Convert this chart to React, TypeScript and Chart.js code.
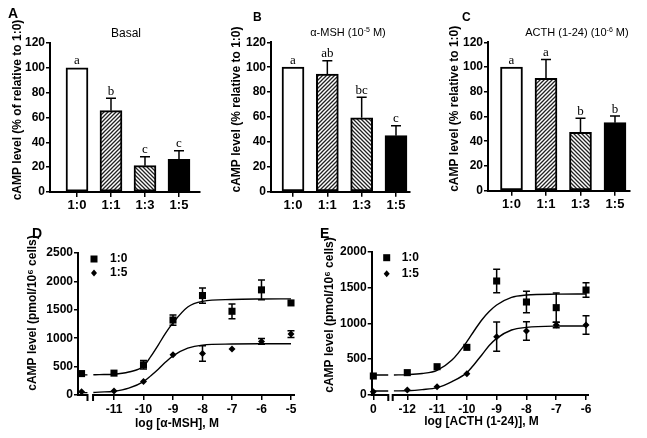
import React, { useEffect, useRef } from 'react';
import { Chart, registerables } from 'chart.js';
Chart.register(...registerables);

const FONT = "'Liberation Sans', Arial, Helvetica, sans-serif";
const SERIF = "'Liberation Serif', 'Times New Roman', serif";

// ---- Bar panels (A, B, C) ----
const ratioLabels = ['1:0', '1:1', '1:3', '1:5'];
const ratioPositions = [0, 1, 2, 3];
const barYTicks = [0, 20, 40, 60, 80, 100, 120];

const basalMeans = [100, 65.5, 21.2, 26.3];
const basalErrors = [0, 10, 7.2, 7];
const basalLetters = ['a', 'b', 'c', 'c'];

const mshMeans = [100, 94.5, 59.4, 45];
const mshErrors = [0, 10.7, 16.4, 8];
const mshLetters = ['a', 'ab', 'bc', 'c'];

const acthMeans = [100, 90.9, 47.2, 55];
const acthErrors = [0, 15.1, 11.3, 5.4];
const acthLetters = ['a', 'a', 'b', 'b'];

// ---- Dose-response panel D (alpha-MSH) ----
const mshDose = [-12.1, -11, -10, -9, -8, -7, -6, -5];
const mshResp10 = [377, 385, 531, 1320, 1751, 1474, 1851, 1621];
const mshSem10 = [0, 0, 75, 90, 135, 130, 175, 0];
const mshResp15 = [59, 71, 236, 708, 731, 808, 943, 1073];
const mshSem15 = [0, 0, 0, 0, 135, 0, 50, 60];
const mshTicks = [-11, -10, -9, -8, -7, -6, -5];
const mshTickLabels = ['-11', '-10', '-9', '-8', '-7', '-6', '-5'];
const mshYTicks = [0, 500, 1000, 1500, 2000, 2500];
const mshFitX = [-12.1, -11.9, -11.8, -11.7, -11.5, -11, -10.5, -10, -9.75, -9.5, -9.25, -9, -8.5, -8, -7, -6, -5];
const mshFit10 = [355, 355, null, 356, 359, 366, 405, 505, 680, 880, 1090, 1270, 1550, 1648, 1682, 1690, 1692];
const mshFit15 = [42, 42, null, 43, 50, 66, 120, 236, 340, 454, 580, 690, 825, 879, 897, 902, 903];

// ---- Dose-response panel E (ACTH 1-24) ----
const acthDose = [-13.14, -12, -11, -10, -9, -8, -7, -6];
const acthResp10 = [265, 312, 395, 665, 1591, 1298, 1219, 1465];
const acthSem10 = [0, 0, 0, 0, 163, 150, 205, 100];
const acthResp15 = [47, 70, 116, 298, 814, 893, 977, 977];
const acthSem15 = [0, 0, 0, 0, 205, 130, 40, 130];
const acthTicks = [-13.14, -12, -11, -10, -9, -8, -7, -6];
const acthTickLabels = ['0', '-12', '-11', '-10', '-9', '-8', '-7', '-6'];
const acthYTicks = [0, 500, 1000, 1500, 2000];
const acthFitX = [-13.14, -12.64, -12.55, -12.45, -12, -11.5, -11, -10.5, -10, -9.75, -9.5, -9.25, -9, -8.5, -8, -7, -6];
const acthFit10 = [279, 279, null, 280, 284, 300, 345, 488, 744, 900, 1047, 1165, 1256, 1363, 1395, 1408, 1410];
const acthFit15 = [56, 56, null, 57, 60, 75, 102, 186, 312, 430, 558, 690, 791, 907, 944, 962, 964];

function makeHatch(ctx: CanvasRenderingContext2D, dir: number) {
  const s = 4;
  const c = document.createElement('canvas');
  c.width = s; c.height = s;
  const g = c.getContext('2d')!;
  g.fillStyle = '#fff'; g.fillRect(0, 0, s, s);
  g.strokeStyle = '#222'; g.lineWidth = 1.3;
  g.beginPath();
  if (dir > 0) {
    g.moveTo(-1, s + 1); g.lineTo(s + 1, -1);
    g.moveTo(-1, 1); g.lineTo(1, -1);
    g.moveTo(s - 1, s + 1); g.lineTo(s + 1, s - 1);
  } else {
    g.moveTo(-1, -1); g.lineTo(s + 1, s + 1);
    g.moveTo(s - 1, -1); g.lineTo(s + 1, 1);
    g.moveTo(-1, s - 1); g.lineTo(1, s + 1);
  }
  g.stroke();
  return ctx.createPattern(c, 'repeat')!;
}

const yTitlePlugin = (text: string, cx: number, cy: number) => ({
  id: 'yTitle',
  afterDraw(chart: any) {
    const { ctx } = chart;
    ctx.save();
    ctx.translate(cx, cy);
    ctx.rotate(-Math.PI / 2);
    ctx.font = `bold 12px ${FONT}`;
    ctx.fillStyle = '#000';
    ctx.textAlign = 'center';
    ctx.textBaseline = 'middle';
    ctx.fillText(text, 0, 0);
    ctx.restore();
  },
});

const barErrorPlugin = (errors: number[], letters: string[]) => ({
  id: 'barErrors',
  afterDatasetsDraw(chart: any) {
    const { ctx } = chart;
    const meta = chart.getDatasetMeta(0);
    const ys = chart.scales.y;
    const ds = chart.data.datasets[0].data;
    ctx.save();
    ctx.strokeStyle = '#000';
    ctx.lineWidth = 1.5;
    meta.data.forEach((bar: any, i: number) => {
      const top = ys.getPixelForValue(ds[i].y + errors[i]);
      if (errors[i] > 0) {
        ctx.beginPath();
        ctx.moveTo(bar.x, bar.y);
        ctx.lineTo(bar.x, top);
        ctx.moveTo(bar.x - 5, top);
        ctx.lineTo(bar.x + 5, top);
        ctx.stroke();
      }
      ctx.fillStyle = '#000';
      ctx.font = `13px ${SERIF}`;
      ctx.textAlign = 'center';
      ctx.textBaseline = 'alphabetic';
      ctx.fillText(letters[i], bar.x, top - 3.5);
    });
    ctx.restore();
  },
});

const pointErrorPlugin = (sems: number[][]) => ({
  id: 'pointErrors',
  afterDatasetsDraw(chart: any) {
    const { ctx } = chart;
    const ys = chart.scales.y;
    ctx.save();
    ctx.strokeStyle = '#000';
    ctx.lineWidth = 1.5;
    sems.forEach((sem, di) => {
      const meta = chart.getDatasetMeta(di);
      const ds = chart.data.datasets[di].data;
      meta.data.forEach((pt: any, i: number) => {
        if (!sem[i]) return;
        const yt = ys.getPixelForValue(ds[i].y + sem[i]);
        const yb = ys.getPixelForValue(ds[i].y - sem[i]);
        ctx.beginPath();
        ctx.moveTo(pt.x, yt); ctx.lineTo(pt.x, yb);
        ctx.moveTo(pt.x - 3.5, yt); ctx.lineTo(pt.x + 3.5, yt);
        ctx.moveTo(pt.x - 3.5, yb); ctx.lineTo(pt.x + 3.5, yb);
        ctx.stroke();
      });
    });
    ctx.restore();
  },
});

const brokenAxisPlugin = (breakStart: number, breakEnd: number) => ({
  id: 'brokenAxis',
  afterDraw(chart: any) {
    const { ctx, chartArea } = chart;
    const xs = chart.scales.x;
    const y0 = chartArea.bottom;
    const b = xs.getPixelForValue(breakStart);
    const c = xs.getPixelForValue(breakEnd);
    ctx.save();
    ctx.strokeStyle = '#000';
    ctx.lineWidth = 2;
    ctx.beginPath();
    ctx.moveTo(chartArea.left - 1, y0);
    ctx.lineTo(b, y0);
    ctx.lineTo(b, y0 + 6);
    ctx.moveTo(c, y0 + 6);
    ctx.lineTo(c, y0);
    ctx.lineTo(chartArea.right, y0);
    ctx.stroke();
    ctx.restore();
  },
});

const legendPlugin = (dx: number, textDx: number, dy1: number, dy2: number) => ({
  id: 'doseLegend',
  afterDraw(chart: any) {
    const { ctx, chartArea } = chart;
    const x = chartArea.left + dx;
    const y1 = chartArea.top + dy1;
    const y2 = chartArea.top + dy2;
    ctx.save();
    ctx.fillStyle = '#000';
    ctx.fillRect(x - 3.5, y1 - 3.5, 7, 7);
    ctx.beginPath();
    ctx.moveTo(x, y2 - 3.5); ctx.lineTo(x + 3, y2); ctx.lineTo(x, y2 + 3.5); ctx.lineTo(x - 3, y2);
    ctx.closePath(); ctx.fill();
    ctx.font = `bold 12px ${FONT}`;
    ctx.textAlign = 'left';
    ctx.textBaseline = 'middle';
    ctx.fillText(chart.data.datasets[0].label, chartArea.left + textDx, y1);
    ctx.fillText(chart.data.datasets[1].label, chartArea.left + textDx, y2);
    ctx.restore();
  },
});

type Area = { left: number; right: number; top: number; bottom: number };

function axisCommon() {
  return {
    grid: { display: true, drawOnChartArea: false, drawTicks: true, tickLength: 4, color: '#000', lineWidth: 1.5, offset: false },
    border: { display: true, color: '#000', width: 2 },
  };
}

const plainTick = (v: number) => String(v);

function barConfig(canvas: HTMLCanvasElement, p: any) {
  const ctx = canvas.getContext('2d')!;
  const fills = ['#ffffff', makeHatch(ctx, 1), makeHatch(ctx, -1), '#000000'];
  const area: Area = p.area;
  return {
    type: 'bar',
    data: {
      datasets: [{
        data: ratioPositions.map((x, i) => ({ x, y: p.means[i] })),
        backgroundColor: fills,
        borderColor: '#000',
        borderWidth: 2,
        borderSkipped: false,
        barThickness: 22,
        clip: false,
      }],
    },
    options: {
      responsive: false,
      animation: false,
      events: [],
      layout: { padding: { left: 0, top: area.top, right: p.width - area.right, bottom: 0 } },
      plugins: { legend: { display: false }, tooltip: { enabled: false }, title: { display: false } },
      scales: {
        x: {
          type: 'linear', min: p.xMin, max: p.xMax, offset: false,
          afterBuildTicks: (s: any) => { s.ticks = ratioPositions.map((v) => ({ value: v })); },
          afterFit: (s: any) => { s.height = p.height - area.bottom; },
          ticks: {
            callback: (v: number) => ratioLabels[ratioPositions.indexOf(v)] ?? '',
            font: { family: FONT, size: 13, weight: 'bold' }, color: '#000', padding: 1, maxRotation: 0, autoSkip: false,
          },
          ...axisCommon(),
          grid: { ...axisCommon().grid, tickLength: 5 },
        },
        y: {
          min: 0, max: 120,
          afterBuildTicks: (s: any) => { s.ticks = barYTicks.map((v) => ({ value: v })); },
          afterFit: (s: any) => { s.width = area.left; },
          ticks: { callback: plainTick, font: { family: FONT, size: 12, weight: 'bold' }, color: '#000', padding: 1 },
          ...axisCommon(),
        },
      },
    },
    plugins: [barErrorPlugin(p.errors, p.letters), yTitlePlugin(p.yTitle, p.yTitleX, p.yTitleY)],
  };
}

function doseConfig(canvas: HTMLCanvasElement, p: any) {
  const area: Area = p.area;
  return {
    type: 'line',
    data: {
      datasets: [
        { label: '1:0', data: p.dose.map((x: number, i: number) => ({ x, y: p.resp10[i] })), showLine: false, pointStyle: 'rect', pointRadius: 5, pointBackgroundColor: '#000', pointBorderWidth: 0, clip: false },
        { label: '1:5', data: p.dose.map((x: number, i: number) => ({ x, y: p.resp15[i] })), showLine: false, pointStyle: 'rectRot', pointRadius: 3.5, pointBackgroundColor: '#000', pointBorderWidth: 0, clip: false },
        { label: 'fit 1:0', data: p.fitX.map((x: number, i: number) => ({ x, y: p.fit10[i] })), borderColor: '#000', borderWidth: 1.4, pointRadius: 0, cubicInterpolationMode: 'monotone', spanGaps: false, fill: false, clip: false },
        { label: 'fit 1:5', data: p.fitX.map((x: number, i: number) => ({ x, y: p.fit15[i] })), borderColor: '#000', borderWidth: 1.4, pointRadius: 0, cubicInterpolationMode: 'monotone', spanGaps: false, fill: false, clip: false },
      ],
    },
    options: {
      responsive: false,
      animation: false,
      events: [],
      layout: { padding: { left: 0, top: area.top, right: p.width - area.right, bottom: 0 } },
      plugins: { legend: { display: false }, tooltip: { enabled: false } },
      scales: {
        x: {
          type: 'linear', min: p.xMin, max: p.xMax, offset: false,
          afterBuildTicks: (s: any) => { s.ticks = p.ticks.map((v: number) => ({ value: v })); },
          afterFit: (s: any) => { s.height = p.height - area.bottom; },
          ticks: {
            callback: (v: number) => p.tickLabels[p.ticks.indexOf(v)] ?? '',
            font: { family: FONT, size: 12, weight: 'bold' }, color: '#000', padding: 2, maxRotation: 0, autoSkip: false,
          },
          grid: { ...axisCommon().grid, tickLength: 5 },
          border: { display: false },
        },
        y: {
          min: 0, max: p.yMax,
          afterBuildTicks: (s: any) => { s.ticks = p.yTicks.map((v: number) => ({ value: v })); },
          afterFit: (s: any) => { s.width = area.left; },
          ticks: { callback: plainTick, font: { family: FONT, size: 12, weight: 'bold' }, color: '#000', padding: 1 },
          ...axisCommon(),
        },
      },
    },
    plugins: [
      pointErrorPlugin([p.sem10, p.sem15]),
      brokenAxisPlugin(p.breakStart, p.breakEnd),
      legendPlugin(p.legDx, p.legTextDx, p.legDy1, p.legDy2),
      yTitlePlugin('cAMP level (pmol/10\u2076 cells)', p.yTitleX, p.yTitleY),
    ],
  };
}

function ChartCanvas({ left, top, width, height, build }: any) {
  const ref = useRef<HTMLCanvasElement>(null);
  useEffect(() => {
    const canvas = ref.current!;
    const chart = new Chart(canvas, build(canvas) as any);
    return () => chart.destroy();
  }, []);
  return (
    <canvas
      ref={ref}
      width={width}
      height={height}
      style={{ position: 'absolute', left, top, width, height }}
    />
  );
}

const textStyle = (left: number, top: number, size: number, bold: boolean): React.CSSProperties => ({
  position: 'absolute', left, top, fontFamily: FONT, fontSize: size, fontWeight: bold ? 'bold' : 'normal',
  lineHeight: 1, whiteSpace: 'nowrap', color: '#000',
});

const centered = (cx: number, top: number, size: number, bold: boolean): React.CSSProperties => ({
  ...textStyle(cx - 100, top, size, bold), width: 200, textAlign: 'center',
});

const sup: React.CSSProperties = { fontSize: 7, verticalAlign: 'top', position: 'relative', top: -1 };

export default function App() {
  const ySub = '% relative to 1:0';
  return (
    <div style={{ position: 'fixed', left: 0, top: 0, width: 647, height: 438, background: '#fff', overflow: 'hidden' }}>
      <ChartCanvas left={0} top={0} width={214} height={220} build={(c: HTMLCanvasElement) => barConfig(c, {
        width: 214, height: 220, area: { left: 50, right: 200, top: 43, bottom: 192 }, xMin: -0.794, xMax: 3.618,
        means: basalMeans, errors: basalErrors, letters: basalLetters,
        yTitle: 'cAMP level (% of relative to 1:0)', yTitleX: 18, yTitleY: 110,
      })} />
      <ChartCanvas left={214} top={0} width={210} height={220} build={(c: HTMLCanvasElement) => barConfig(c, {
        width: 210, height: 220, area: { left: 57, right: 196, top: 42.3, bottom: 191.7 }, xMin: -0.641, xMax: 3.408,
        means: mshMeans, errors: mshErrors, letters: mshLetters,
        yTitle: `cAMP level (${ySub})`, yTitleX: 22.7, yTitleY: 109.5,
      })} />
      <ChartCanvas left={424} top={0} width={223} height={220} build={(c: HTMLCanvasElement) => barConfig(c, {
        width: 223, height: 220, area: { left: 64, right: 206, top: 42.3, bottom: 190.7 }, xMin: -0.681, xMax: 3.435,
        means: acthMeans, errors: acthErrors, letters: acthLetters,
        yTitle: `cAMP level (${ySub})`, yTitleX: 31, yTitleY: 108.8,
      })} />
      <ChartCanvas left={0} top={220} width={320} height={218} build={(c: HTMLCanvasElement) => doseConfig(c, {
        width: 320, height: 218, area: { left: 78, right: 295, top: 33, bottom: 175 }, xMin: -12.22, xMax: -4.864,
        dose: mshDose, resp10: mshResp10, resp15: mshResp15, sem10: mshSem10, sem15: mshSem15,
        fitX: mshFitX, fit10: mshFit10, fit15: mshFit15, ticks: mshTicks, tickLabels: mshTickLabels,
        yMax: 2500, yTicks: mshYTicks, breakStart: -11.898, breakEnd: -11.71,
        legDx: 16, legTextDx: 32, legDy1: 6, legDy2: 20, yTitleX: 33, yTitleY: 93,
      })} />
      <ChartCanvas left={320} top={220} width={327} height={218} build={(c: HTMLCanvasElement) => doseConfig(c, {
        width: 327, height: 218, area: { left: 51.7, right: 269, top: 31.7, bottom: 175 }, xMin: -13.195, xMax: -5.9,
        dose: acthDose, resp10: acthResp10, resp15: acthResp15, sem10: acthSem10, sem15: acthSem15,
        fitX: acthFitX, fit10: acthFit10, fit15: acthFit15, ticks: acthTicks, tickLabels: acthTickLabels,
        yMax: 2000, yTicks: acthYTicks, breakStart: -12.638, breakEnd: -12.49,
        legDx: 15, legTextDx: 30, legDy1: 6, legDy2: 22, yTitleX: 10, yTitleY: 95,
      })} />

      <div style={textStyle(8, 6, 14, true)}>A</div>
      <div style={textStyle(253, 10.5, 12, true)}>B</div>
      <div style={textStyle(462, 10.5, 12, true)}>C</div>
      <div style={textStyle(32, 226, 14, true)}>D</div>
      <div style={textStyle(320, 226, 14, true)}>E</div>

      <div style={centered(126, 26.5, 12, false)}>Basal</div>
      <div style={centered(348, 26.5, 11, false)}>α-MSH (10<span style={sup}>-5</span> M)</div>
      <div style={centered(577, 26.5, 11, false)}>ACTH (1-24) (10<span style={sup}>-6</span> M)</div>

      <div style={centered(177, 417, 12, true)}>log [α-MSH], M</div>
      <div style={centered(481.5, 415, 12, true)}>log [ACTH (1-24)], M</div>
    </div>
  );
}
